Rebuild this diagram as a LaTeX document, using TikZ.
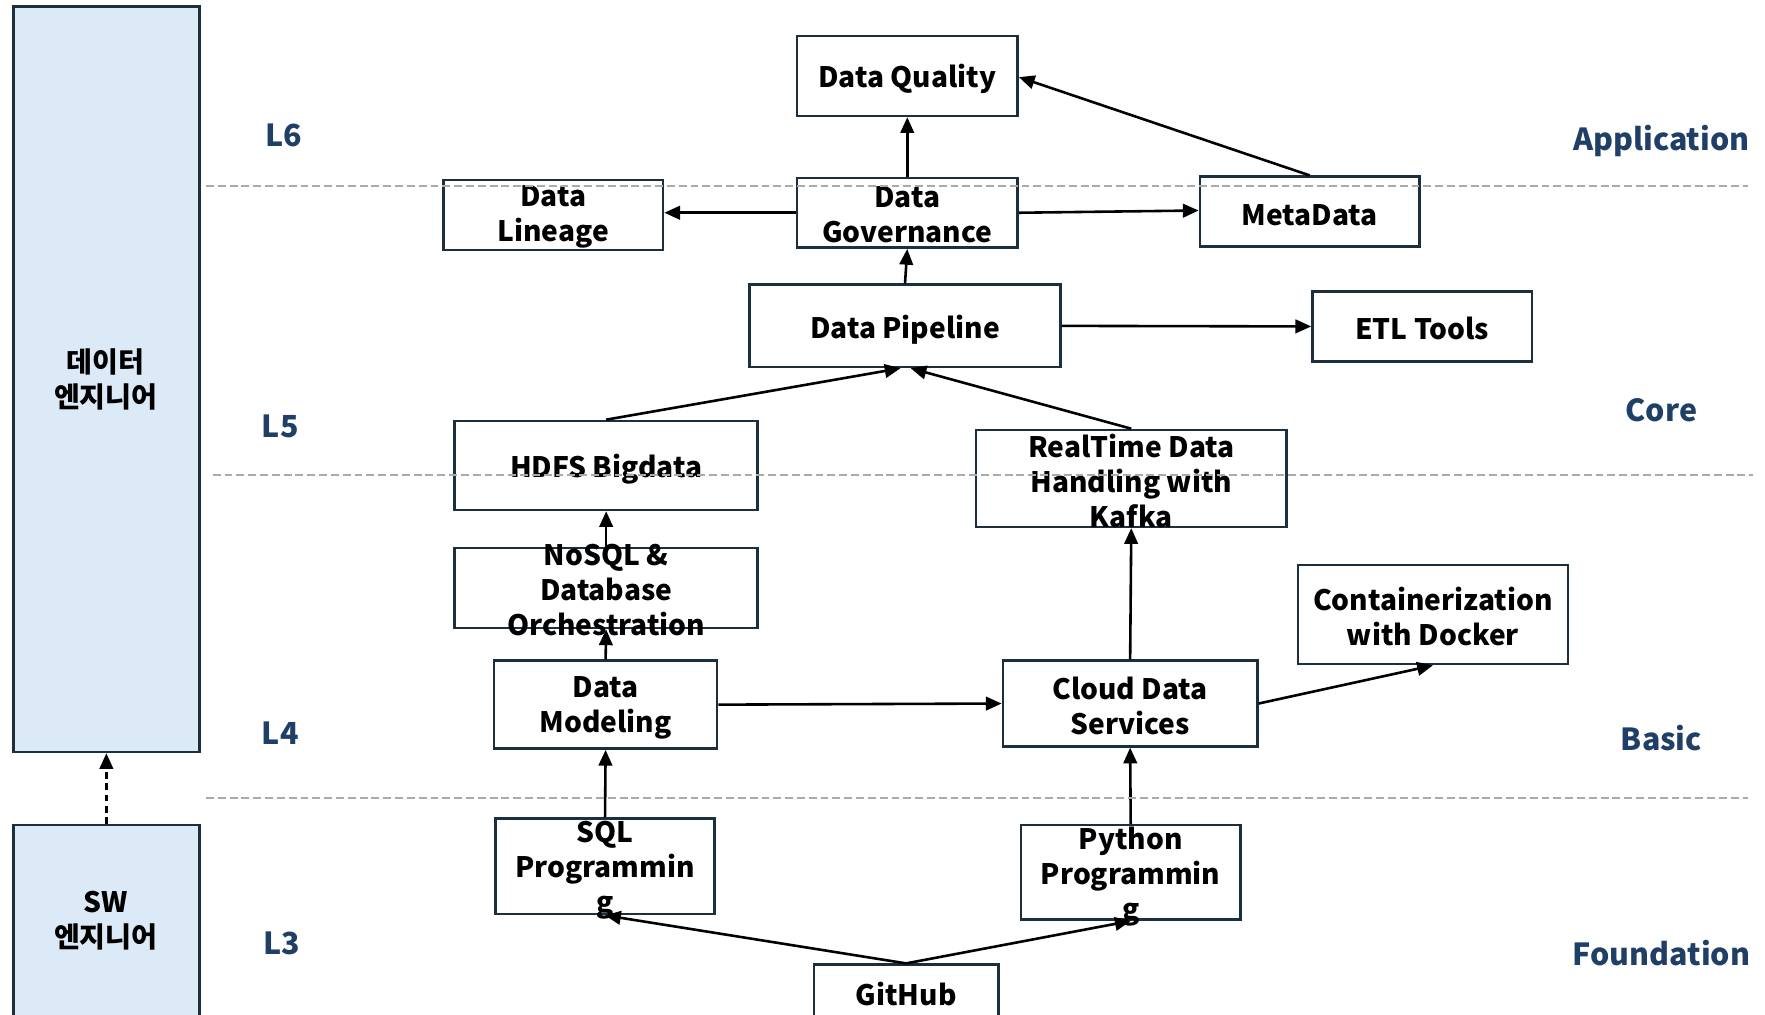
\documentclass[tikz,border=0pt]{standalone}
\usepackage{fontspec}
\setmainfont{Noto Sans CJK KR}
\usetikzlibrary{arrows.meta}
\definecolor{boxc}{HTML}{1B2F3F}
\definecolor{fillc}{HTML}{DCE9F6}
\definecolor{labc}{HTML}{1F3F66}
\definecolor{sepc}{HTML}{AAAAAA}
\tikzset{
 bx/.style={draw=boxc, line width=2.3pt, inner sep=0pt},
 tx/.style={align=center, font=\fontsize{25}{31}\selectfont\bfseries, inner sep=0pt},
 lab/.style={font=\fontsize{27}{32}\selectfont\bfseries, text=labc, inner sep=0pt},
 conn/.style={draw=black, line width=2.3pt, -{Triangle[length=14pt,width=12pt]}},
 sepline/.style={draw=sepc, line width=1.7pt, dash pattern=on 7pt off 3.5pt},
}
\begin{document}
\begin{tikzpicture}[x=1pt,y=-1pt]
\clip (0,0) rectangle (1568,901);
\fill[white] (0,0) rectangle (1568,901);

% role boxes
\node[bx, fill=fillc, minimum width=165pt, minimum height=662pt] (de) at (94.5,337) {};
\node[tx] (det) at (94,337) {데이터\\엔지니어};
\node[bx, fill=fillc, minimum width=165pt, minimum height=190pt] (sw) at (94.5,828) {};
\node[tx] (swt) at (94,818) {SW\\엔지니어};
\draw[line width=2.3pt, dash pattern=on 6pt off 4pt, -{Triangle[length=14pt,width=12pt]}] (sw.north) -- (de.south);

% level labels
\node[lab] (l6) at (252,120) {L6};
\node[lab] (l5) at (249,379) {L5};
\node[lab] (l4) at (249,651) {L4};
\node[lab] (l3) at (250,838) {L3};
\node[lab] (app) at (1476,125) {Application};
\node[lab] (core) at (1476,364) {Core};
\node[lab] (basic) at (1476,656) {Basic};
\node[lab] (found) at (1476,847) {Foundation};

% boxes
\node[bx, minimum width=196pt, minimum height=71pt] (dq) at (806,67.5) {};
\node[tx] at (806,70.5) {Data Quality};
\node[bx, minimum width=196pt, minimum height=62pt] (dg) at (806,189) {};
\node[tx] at (806,190.5) {Data\\Governance};
\node[bx, minimum width=195pt, minimum height=62pt] (dl) at (491.5,191) {};
\node[tx] at (491.5,193) {Data\\Lineage};
\node[bx, minimum width=195pt, minimum height=62pt] (md) at (1163.5,188) {};
\node[tx] at (1163.5,191) {MetaData};
\node[bx, minimum width=276pt, minimum height=73pt] (dp) at (804,289.5) {};
\node[tx] at (804,292.5) {Data Pipeline};
\node[bx, minimum width=195pt, minimum height=62pt] (etl) at (1263.5,290) {};
\node[tx] at (1263.5,292) {ETL Tools};
\node[bx, minimum width=269pt, minimum height=79pt] (hdfs) at (538.5,413.5) {};
\node[tx] at (538.5,417) {HDFS Bigdata};
\node[bx, minimum width=276pt, minimum height=86pt] (rt) at (1005,425) {};
\node[tx] at (1005,427) {RealTime Data\\Handling with\\Kafka};
\node[bx, minimum width=269pt, minimum height=71pt] (nosql) at (538.5,522.5) {};
\node[tx] at (538.5,524.5) {NoSQL \&\\Database\\Orchestration};
\node[bx, minimum width=198pt, minimum height=78pt] (dm) at (538,626) {};
\node[tx] at (538,629) {Data\\Modeling};
\node[bx, minimum width=226pt, minimum height=76pt] (cds) at (1004,625) {};
\node[tx] at (1004,627) {Cloud Data\\Services};
\node[bx, minimum width=240pt, minimum height=88pt] (dock) at (1273,546) {};
\node[tx] at (1273,547.5) {Containerization\\with Docker};
\node[bx, minimum width=195pt, minimum height=85pt] (sql) at (537.5,769.5) {};
\node[tx] at (537.5,773) {SQL\\Programmin\\g};
\node[bx, minimum width=195pt, minimum height=84pt] (py) at (1004.5,775) {};
\node[tx] at (1004.5,779) {Python\\Programmin\\g};
\node[bx, minimum width=164pt, minimum height=70pt] (gh) at (805,892) {};
\node[tx] at (805,883) {GitHub};

% connectors
\draw[conn] (dg.north) -- (dq.south);
\draw[conn] (md.north) -- ([yshift=-1pt]dq.east);
\draw[conn] (dg.west) -- ([yshift=2pt]dl.east);
\draw[conn] (dg.east) -- ([yshift=1pt]md.west);
\draw[conn] (dp.north) -- (dg.south);
\draw[conn] (dp.east) -- (etl.west);
\draw[conn] (hdfs.north) -- ([xshift=-4pt]dp.south);
\draw[conn] (rt.north) -- ([xshift=5pt]dp.south);
\draw[conn] (nosql.north) -- (hdfs.south);
\draw[conn] (dm.north) -- (nosql.south);
\draw[conn] (dm.east) -- (cds.west);
\draw[conn] (cds.north) -- (rt.south);
\draw[conn] (cds.east) -- (dock.south);
\draw[conn] (sql.north) -- (dm.south);
\draw[conn] (py.north) -- (cds.south);
\draw[conn] (gh.north) -- (sql.south);
\draw[conn] (gh.north) -- (py.south);

% separators
\coordinate (s1a) at (183,165); \coordinate (s1b) at (1553,165);
\coordinate (s2a) at (189,422); \coordinate (s2b) at (1557,422);
\coordinate (s3a) at (183,709); \coordinate (s3b) at (1553,709);
\draw[sepline] (s1a) -- (s1b);
\draw[sepline] (s2a) -- (s2b);
\draw[sepline] (s3a) -- (s3b);
\end{tikzpicture}
\end{document}
